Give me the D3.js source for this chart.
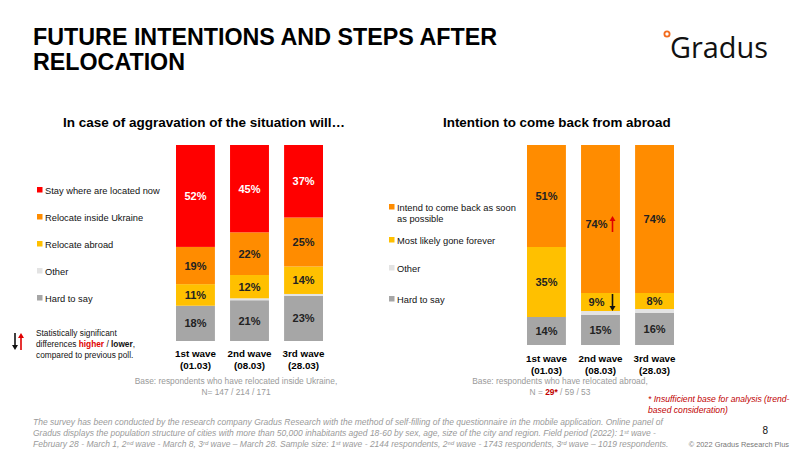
<!DOCTYPE html>
<html><head><meta charset="utf-8">
<script src="https://cdn.jsdelivr.net/npm/d3@7"></script>
<style>
body{margin:0;background:#fff;}
svg{font-family:"Liberation Sans",Arial,sans-serif;}
</style></head>
<body><svg id="c" width="800" height="450"></svg>
<script>
// ---- data ----
const waves = ["1st wave", "2nd wave", "3rd wave"];
const waveDates = ["(01.03)", "(08.03)", "(28.03)"];

const leftKeys = ["Hard to say", "Other", "Relocate abroad", "Relocate inside Ukraine", "Stay where are located now"];
const leftHard   = [18, 21, 23];
const leftOther  = [0, 1, 1];
const leftAbroad = [11, 12, 14];
const leftInside = [19, 22, 25];
const leftStay   = [52, 45, 37];

const rightKeys = ["Hard to say", "Other", "Most likely gone forever", "Intend to come back as soon as possible"];
const rightHard   = [14, 15, 16];
const rightOther  = [0, 2, 2];
const rightGone   = [35, 9, 8];
const rightIntend = [51, 74, 74];

const colors = {
  "Stay where are located now": "#FF0000",
  "Relocate inside Ukraine": "#FF8C00",
  "Relocate abroad": "#FFC000",
  "Other": "#E3E3E3",
  "Hard to say": "#A6A6A6",
  "Intend to come back as soon as possible": "#FF8C00",
  "Most likely gone forever": "#FFC000"
};

const svg = d3.select("#c");

// ---- title ----
const title = svg.append("g").attr("font-family", "'Liberation Sans Narrow','Arial Narrow','Liberation Sans',sans-serif")
  .attr("font-weight", "bold").attr("font-size", 24.5).attr("fill", "#000");
title.append("text").attr("x", 33).attr("y", 45).attr("textLength", 464).attr("lengthAdjust", "spacingAndGlyphs").text("FUTURE INTENTIONS AND STEPS AFTER");
title.append("text").attr("x", 33).attr("y", 70).attr("textLength", 152).attr("lengthAdjust", "spacingAndGlyphs").text("RELOCATION");

// logo
svg.append("circle").attr("cx", 667).attr("cy", 34).attr("r", 2.6).attr("fill", "none").attr("stroke", "#F26B1D").attr("stroke-width", 1.8);
svg.append("text").attr("x", 670).attr("y", 58).attr("font-family", "'Open Sans',sans-serif").attr("font-size", 30)
  .attr("fill", "#111").attr("textLength", 98).attr("lengthAdjust", "spacingAndGlyphs").text("Gradus");

// subtitles
svg.append("text").attr("x", 63).attr("y", 127).attr("font-weight", "bold").attr("font-size", 13.5).text("In case of aggravation of the situation will\u2026");
svg.append("text").attr("x", 443).attr("y", 127).attr("font-weight", "bold").attr("font-size", 13.4).text("Intention to come back from abroad");

function rows(keys, arrays) {
  return waves.map((w, i) => {
    const o = {wave: w};
    keys.forEach((k, j) => o[k] = arrays[j][i]);
    return o;
  });
}

function drawChart(cfg) {
  const data = rows(cfg.keys, cfg.arrays);
  const x = d3.scaleBand().domain(waves).range(cfg.xRange).paddingInner(0.28).paddingOuter(0);
  const y = d3.scaleLinear().domain([0, 1]).range(cfg.yRange);
  const series = d3.stack().keys(cfg.keys).offset(d3.stackOffsetExpand)(data);
  const g = svg.append("g");
  series.forEach(s => {
    g.selectAll(null).data(s).enter().append("rect")
      .attr("x", d => x(d.data.wave))
      .attr("width", x.bandwidth())
      .attr("y", d => y(d[1]))
      .attr("height", d => y(d[0]) - y(d[1]))
      .attr("fill", colors[s.key]);
    g.selectAll(null).data(s.filter(d => d.data[s.key] >= 5)).enter().append("text")
      .attr("x", d => x(d.data.wave) + x.bandwidth() / 2 + (cfg.shift[s.key + "|" + d.data.wave] || 0))
      .attr("y", d => (y(d[0]) + y(d[1])) / 2 + 4 + (cfg.dy[s.key + "|" + d.data.wave] || 0))
      .attr("text-anchor", "middle").attr("font-weight", "bold").attr("font-size", 11)
      .attr("fill", s.key === "Stay where are located now" ? "#fff" : "#222")
      .text(d => d.data[s.key] + "%");
  });
  // axis labels
  const ax = svg.append("g").attr("transform", `translate(0,${cfg.yRange[0]})`)
    .call(d3.axisBottom(x).tickSize(0).tickPadding(0).tickFormat(() => ""));
  ax.select(".domain").remove();
  ax.selectAll(".tick").each(function(d, i) {
    const t = d3.select(this);
    t.append("text").attr("y", cfg.labY).attr("text-anchor", "middle").attr("font-weight", "bold").attr("font-size", 9.8).attr("fill", "#000").text(d);
    t.append("text").attr("y", cfg.labY + 12).attr("text-anchor", "middle").attr("font-weight", "bold").attr("font-size", 9.8).attr("fill", "#000").text(waveDates[i]);
  });
  return {x, y, series};
}

const L = drawChart({
  keys: leftKeys,
  arrays: [leftHard, leftOther, leftAbroad, leftInside, leftStay],
  xRange: [176, 323], yRange: [341, 145], labY: 16, shift: {}, dy: {}
});
const R = drawChart({
  keys: rightKeys,
  arrays: [rightHard, rightOther, rightGone, rightIntend],
  xRange: [527, 674], yRange: [345, 145], labY: 17,
  shift: {"Intend to come back as soon as possible|2nd wave": -4, "Most likely gone forever|2nd wave": -4},
  dy: {"Intend to come back as soon as possible|2nd wave": 5}
});

// significance arrows on right chart (2nd wave)
function arrow(g, x, y1, y2, color) {
  const dir = y2 > y1 ? 1 : -1;
  g.append("line").attr("x1", x).attr("x2", x).attr("y1", y1).attr("y2", y2 - dir * 4).attr("stroke", color).attr("stroke-width", 1.6);
  g.append("path").attr("d", `M${x - 3},${y2 - dir * 5}L${x + 3},${y2 - dir * 5}L${x},${y2}Z`).attr("fill", color);
}
{
  const xb = R.x("2nd wave") + R.x.bandwidth() / 2 + 12;
  const sInt = R.series[3][1], sGone = R.series[2][1];
  const yInt = (R.y(sInt[0]) + R.y(sInt[1])) / 2 + 5;
  arrow(svg, xb, yInt + 8, yInt - 8, "#E00000");
  const yG = (R.y(sGone[0]) + R.y(sGone[1])) / 2;
  arrow(svg, xb, yG - 8, yG + 9, "#111");
}

// legends
function legend(items, x, ys, lines) {
  const g = svg.append("g").attr("font-size", 9.3).attr("fill", "#111");
  items.forEach((k, i) => {
    g.append("rect").attr("x", x).attr("y", ys[i] - 7).attr("width", 5.5).attr("height", 5.5).attr("fill", colors[k]);
    const t = g.append("text").attr("x", x + 8).attr("y", ys[i]);
    (lines[k] || [k]).forEach((ln, j) => t.append("tspan").attr("x", x + 8).attr("dy", j ? 11 : 0).text(ln));
  });
}
legend(["Stay where are located now", "Relocate inside Ukraine", "Relocate abroad", "Other", "Hard to say"], 37, [194, 221, 248, 275, 302], {});
legend(["Intend to come back as soon as possible", "Most likely gone forever", "Other", "Hard to say"], 389, [211, 244, 272, 303],
  {"Intend to come back as soon as possible": ["Intend to come back as soon", "as possible"]});

// significance note
{
  const g = svg.append("g");
  arrow(g, 15, 333, 350, "#111");
  arrow(g, 21, 350, 333, "#E00000");
  const t = g.append("g").attr("font-size", 8.3).attr("fill", "#111");
  t.append("text").attr("x", 36).attr("y", 336).text("Statistically significant");
  const t2 = t.append("text").attr("x", 36).attr("y", 347);
  t2.append("tspan").text("differences ");
  t2.append("tspan").attr("fill", "#E00000").attr("font-weight", "bold").text("higher");
  t2.append("tspan").text(" / ");
  t2.append("tspan").attr("font-weight", "bold").text("lower");
  t2.append("tspan").text(",");
  t.append("text").attr("x", 36).attr("y", 358).text("compared to previous poll.");
}

// base notes
const base = svg.append("g").attr("font-size", 8.4).attr("fill", "#9a9a9a").attr("text-anchor", "middle")
  .attr("font-family", "'Liberation Sans Narrow','Liberation Sans',sans-serif");
base.append("text").attr("x", 236).attr("y", 384).text("Base: respondents who have relocated inside Ukraine,");
base.append("text").attr("x", 236).attr("y", 395).text("N= 147 / 214 / 171");
base.append("text").attr("x", 560).attr("y", 384).text("Base: respondents who have relocated abroad,");
{
  const t = base.append("text").attr("x", 560).attr("y", 395);
  t.append("tspan").text("N = ");
  t.append("tspan").attr("fill", "#C00000").attr("font-weight", "bold").text("29*");
  t.append("tspan").text(" / 59 / 53");
}
{
  const g = svg.append("g").attr("font-size", 8.6).attr("fill", "#C00000").attr("font-style", "italic")
    .attr("font-family", "'Liberation Sans Narrow','Liberation Sans',sans-serif");
  g.append("text").attr("x", 648).attr("y", 402).text("* Insufficient base for analysis (trend-");
  g.append("text").attr("x", 648).attr("y", 413).text("based consideration)");
}

// footer
{
  const g = svg.append("g").attr("font-size", 8.5).attr("fill", "#9a9a9a").attr("font-style", "italic")
    .attr("font-family", "'Liberation Sans Narrow','Liberation Sans',sans-serif");
  g.append("text").attr("x", 33).attr("y", 425)
    .text("The survey has been conducted by the research company Gradus Research with the method of self-filling of the questionnaire in the mobile application. Online panel of");
  g.append("text").attr("x", 33).attr("y", 436)
    .text("Gradus displays the population structure of cities with more than 50,000 inhabitants aged 18-60 by sex, age, size of the city and region. Field period (2022): 1\u02e2\u1d57  wave -");
  g.append("text").attr("x", 33).attr("y", 447)
    .text("February 28 - March 1, 2\u207f\u1d48 wave - March 8, 3\u02b3\u1d48 wave \u2013 March 28. Sample size: 1\u02e2\u1d57  wave - 2144 respondents, 2\u207f\u1d48  wave - 1743 respondents, 3\u02b3\u1d48 wave \u2013 1019 respondents.");
}
svg.append("text").attr("x", 768).attr("y", 434).attr("text-anchor", "end").attr("font-size", 10).attr("fill", "#111").text("8");
svg.append("text").attr("x", 789).attr("y", 447).attr("text-anchor", "end").attr("font-size", 7.4).attr("fill", "#777")
  .attr("font-family", "'Liberation Sans Narrow','Liberation Sans',sans-serif").text("\u00a9 2022 Gradus Research Plus");
</script></body></html>
